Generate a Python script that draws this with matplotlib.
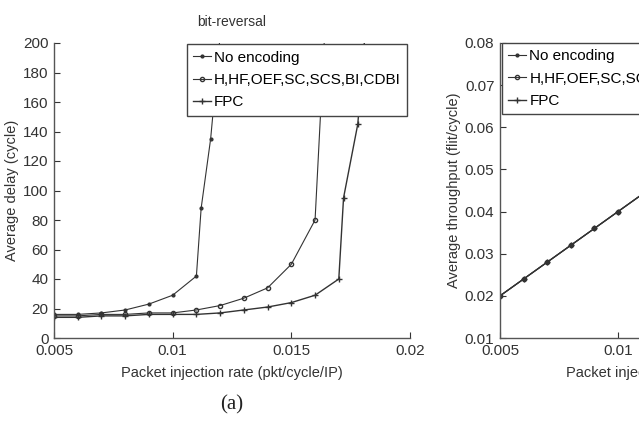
import matplotlib
matplotlib.use("Agg")
import matplotlib.pyplot as plt
from matplotlib.ticker import FixedLocator, FixedFormatter

plt.rcParams["font.family"] = ["Liberation Sans", "DejaVu Sans"]

# dados - atraso medio (bit-reversal)
x_noenc = [0.005, 0.006, 0.007, 0.008, 0.009, 0.010, 0.011, 0.0112, 0.0116, 0.012]
y_noenc = [16, 16, 17, 19, 23, 29, 42, 88, 135, 205]

x_hhf = [0.005, 0.006, 0.007, 0.008, 0.009, 0.010, 0.011, 0.012, 0.013, 0.014, 0.015, 0.016, 0.0164]
y_hhf = [15, 15, 16, 16, 17, 17, 19, 22, 27, 34, 50, 80, 205]

x_fpc = [0.005, 0.006, 0.007, 0.008, 0.009, 0.010, 0.011, 0.012, 0.013, 0.014, 0.015, 0.016, 0.017, 0.0172, 0.0178, 0.0181]
y_fpc = [14, 14, 15, 15, 16, 16, 16, 17, 19, 21, 24, 29, 40, 95, 145, 205]

# dados - vazao media
x_thr = [0.005, 0.006, 0.007, 0.008, 0.009, 0.010, 0.011, 0.012]
y_thr_noenc = [0.020, 0.024, 0.028, 0.032, 0.036, 0.040, 0.044, 0.0445]
y_thr_hhf = [0.020, 0.024, 0.028, 0.032, 0.036, 0.040, 0.044, 0.048]
y_thr_fpc = [0.020, 0.024, 0.028, 0.032, 0.036, 0.040, 0.044, 0.048]

nomes = ["No encoding", "H,HF,OEF,SC,SCS,BI,CDBI", "FPC"]
x_ticks = [0.005, 0.01, 0.015, 0.02]
x_tick_labels = ["0.005", "0.01", "0.015", "0.02"]
y_ticks_delay = list(range(0, 201, 20))
y_ticks_thr = [0.01, 0.02, 0.03, 0.04, 0.05, 0.06, 0.07, 0.08]
y_tick_labels_thr = ["0.01", "0.02", "0.03", "0.04", "0.05", "0.06", "0.07", "0.08"]

W, H = 639, 437
fig = plt.figure(figsize=(W / 100, H / 100), dpi=100)
fig.patch.set_facecolor("white")

ax1 = fig.add_axes([54 / W, (H - 338) / H, 356 / W, 295 / H])
ax2 = fig.add_axes([500 / W, (H - 338) / H, 354 / W, 295 / H])

cor = "#333333"
cor_txt = "#333333"


def estilo(ax):
    for s in ["top", "right"]:
        ax.spines[s].set_visible(False)
    for s in ["left", "bottom"]:
        ax.spines[s].set_color("#555555")
        ax.spines[s].set_linewidth(1.0)
    ax.tick_params(direction="in", length=4, labelsize=11, colors=cor_txt, pad=4)
    ax.xaxis.set_major_locator(FixedLocator(x_ticks))
    ax.xaxis.set_major_formatter(FixedFormatter(x_tick_labels))
    ax.set_xlim(0.005, 0.02)
    ax.set_xlabel("Packet injection rate (pkt/cycle/IP)", fontsize=10.5, color=cor_txt, labelpad=6)
    ax.set_title("bit-reversal", fontsize=10, color=cor_txt, pad=12)


def legenda(ax, loc, anchor):
    ax.legend(loc=loc, bbox_to_anchor=anchor, borderaxespad=0, frameon=True,
              fancybox=False, edgecolor="#444444", fontsize=11, handlelength=1.2,
              handletextpad=0.2, borderpad=0.4, labelspacing=0.55, facecolor="white",
              framealpha=1)


# grafico 1: atraso
ax1.plot(x_noenc, y_noenc, color=cor, lw=0.8, marker=".", ms=4, label=nomes[0])
ax1.plot(x_hhf, y_hhf, color=cor, lw=0.8, marker="o", ms=3, mfc="none", label=nomes[1])
ax1.plot(x_fpc, y_fpc, color=cor, lw=1.0, marker="+", ms=4, label=nomes[2])
ax1.set_ylim(0, 200)
ax1.yaxis.set_major_locator(FixedLocator(y_ticks_delay))
ax1.set_ylabel("Average delay (cycle)", fontsize=10.5, color=cor_txt, labelpad=3)
estilo(ax1)
legenda(ax1, "upper right", (0.992, 0.995))

# grafico 2: vazao
ax2.plot(x_thr, y_thr_noenc, color=cor, lw=0.8, marker=".", ms=4, label=nomes[0])
ax2.plot(x_thr, y_thr_hhf, color=cor, lw=0.8, marker="o", ms=3, mfc="none", label=nomes[1])
ax2.plot(x_thr, y_thr_fpc, color=cor, lw=1.0, marker="+", ms=4, label=nomes[2])
ax2.set_ylim(0.01, 0.08)
ax2.yaxis.set_major_locator(FixedLocator(y_ticks_thr))
ax2.yaxis.set_major_formatter(FixedFormatter(y_tick_labels_thr))
ax2.set_ylabel("Average throughput (flit/cycle)", fontsize=10.5, color=cor_txt, labelpad=3)
estilo(ax2)
legenda(ax2, "upper left", (0.005, 1.0))

fig.text(232 / W, 1 - 405 / H, "(a)", fontsize=15, family="Liberation Serif",
         ha="center", va="center", color="#222222")

fig.savefig("out.png", dpi=100)
